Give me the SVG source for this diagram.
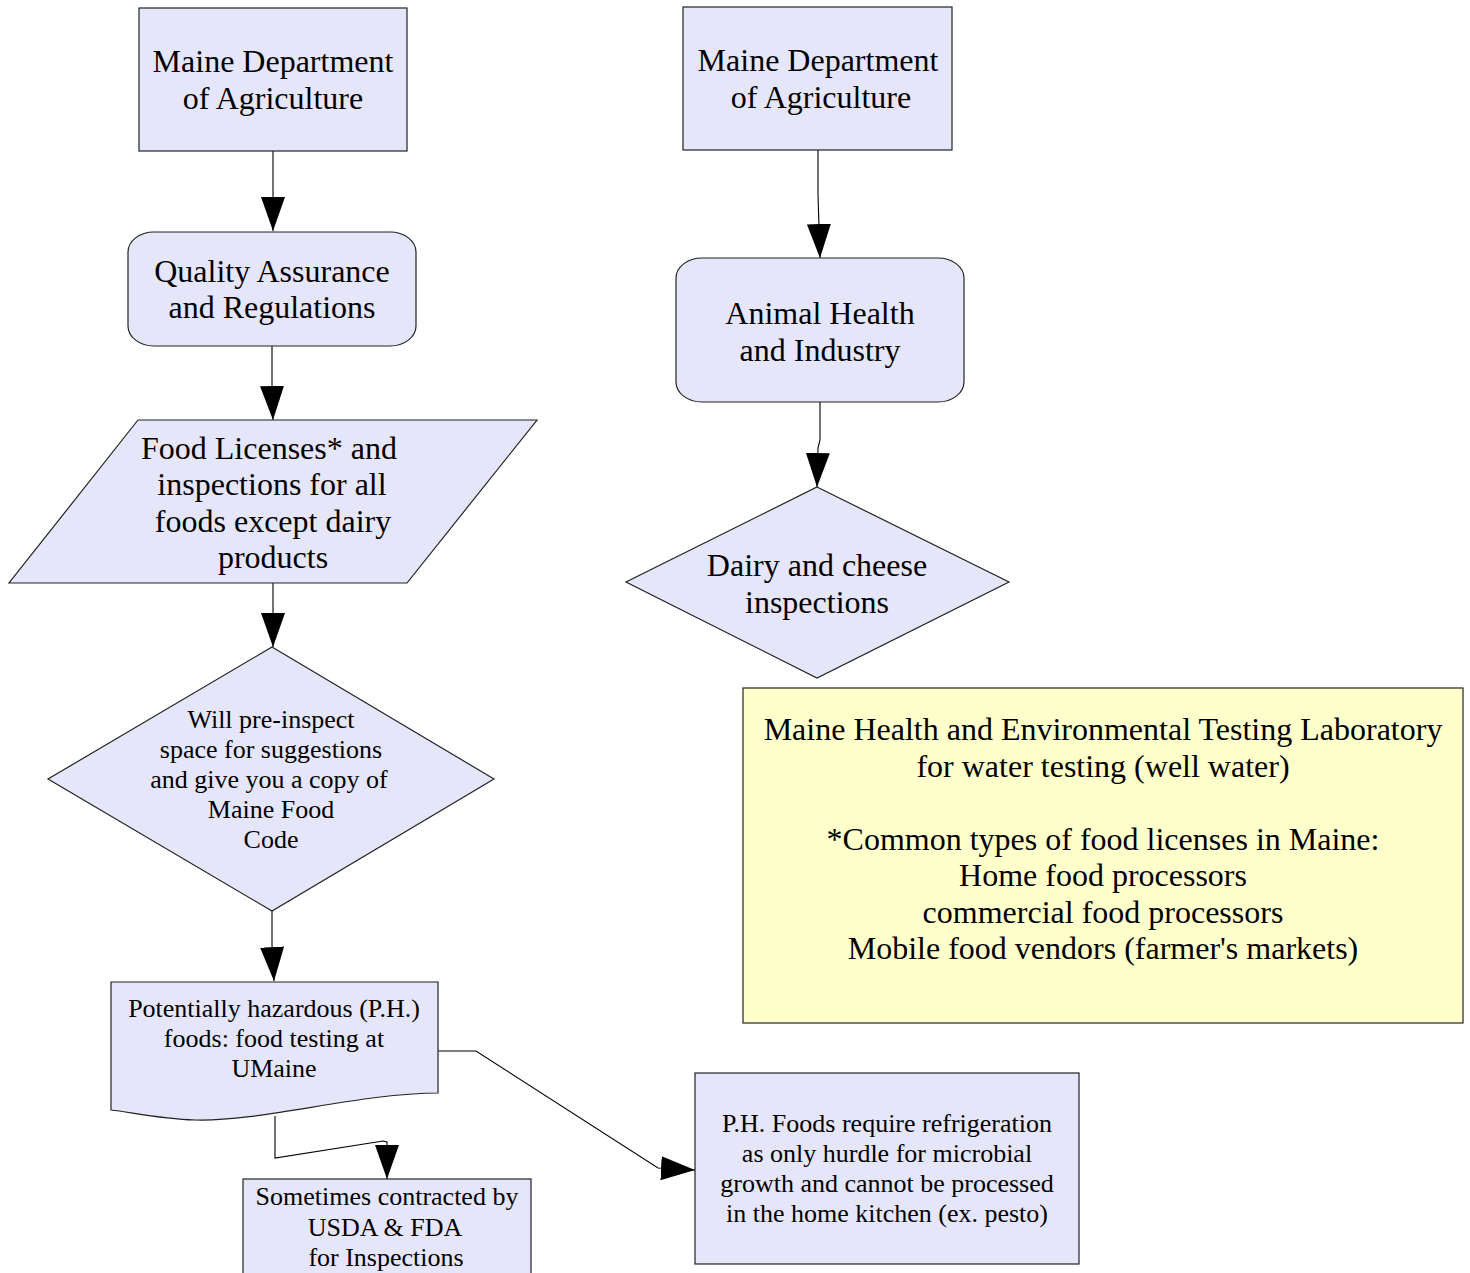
<svg xmlns="http://www.w3.org/2000/svg" width="1470" height="1273" viewBox="0 0 1470 1273">
<style>
.n{fill:#e6e6fa;stroke:#222;stroke-width:1.2}
.note{fill:#ffffcc;stroke:#222;stroke-width:1.2}
text{font-family:"Liberation Serif","Times New Roman",serif;fill:#000;text-anchor:middle}
.l{font-size:32px}
.s{font-size:26px}
.c{fill:none;stroke:#000;stroke-width:1.1}
</style>
<defs>
<marker id="ah" markerUnits="userSpaceOnUse" markerWidth="36" markerHeight="26" refX="34" refY="12" orient="auto">
<path d="M0,0 L34,12 L0,24 Z" fill="#000"/>
</marker>
</defs>
<rect width="1470" height="1273" fill="#fff"/>
<g id="connectors">
<path class="c" d="M273,151 L273,185 L273,231" marker-end="url(#ah)"/>
<path class="c" d="M272,346 L272,385 L273,420" marker-end="url(#ah)"/>
<path class="c" d="M273,583 L273,647" marker-end="url(#ah)"/>
<path class="c" d="M272,911 L272,945 L274,981" marker-end="url(#ah)"/>
<path class="c" d="M275,1116 L275,1158 L383,1141 L387,1142 L387,1179" marker-end="url(#ah)"/>
<path class="c" d="M438,1051 L476,1051 L658,1168 L695,1170" marker-end="url(#ah)"/>
<path class="c" d="M818,150 L818,195 L820,258" marker-end="url(#ah)"/>
<path class="c" d="M820,402 L820,440 L818,448 L817,487" marker-end="url(#ah)"/>
</g>
<g id="n1">
<rect class="n" x="139" y="8" width="268" height="143"/>
<text class="l" x="273" y="72">Maine Department</text>
<text class="l" x="273" y="109">of Agriculture</text>
</g>
<g id="n2">
<rect class="n" x="128" y="232" width="288" height="114" rx="26" ry="20"/>
<text class="l" x="272" y="282">Quality Assurance</text>
<text class="l" x="272" y="318">and Regulations</text>
</g>
<g id="n3">
<polygon class="n" points="138,420 537,420 407,583 9,583"/>
<text class="l" x="269" y="459">Food Licenses* and</text>
<text class="l" x="272" y="495">inspections for all</text>
<text class="l" x="273" y="532">foods except dairy</text>
<text class="l" x="273" y="568">products</text>
</g>
<g id="n4">
<polygon class="n" points="272,647 494,779 272,911 48,779"/>
<text class="s" x="271" y="728">Will pre-inspect</text>
<text class="s" x="271" y="758">space for suggestions</text>
<text class="s" x="269" y="788">and give you a copy of</text>
<text class="s" x="271" y="818">Maine Food</text>
<text class="s" x="271" y="848">Code</text>
</g>
<g id="n5">
<path class="n" d="M111,982 L438,982 L438,1093 C360,1093 260,1122 195,1120 C160,1119 130,1112 111,1110 Z"/>
<text class="s" x="274" y="1017">Potentially hazardous (P.H.)</text>
<text class="s" x="274" y="1047">foods: food testing at</text>
<text class="s" x="274" y="1077">UMaine</text>
</g>
<g id="n6">
<rect class="n" x="243" y="1179" width="288" height="110"/>
<text class="s" x="387" y="1205">Sometimes contracted by</text>
<text class="s" x="385" y="1236">USDA &amp; FDA</text>
<text class="s" x="386" y="1266">for Inspections</text>
</g>
<g id="n7">
<rect class="n" x="695" y="1073" width="384" height="191"/>
<text class="s" x="887" y="1132">P.H. Foods require refrigeration</text>
<text class="s" x="887" y="1162">as only hurdle for microbial</text>
<text class="s" x="887" y="1192">growth and cannot be processed</text>
<text class="s" x="887" y="1222">in the home kitchen (ex. pesto)</text>
</g>
<g id="n8">
<rect class="n" x="683" y="7" width="269" height="143"/>
<text class="l" x="818" y="71">Maine Department</text>
<text class="l" x="821" y="108">of Agriculture</text>
</g>
<g id="n9">
<rect class="n" x="676" y="258" width="288" height="144" rx="26" ry="20"/>
<text class="l" x="820" y="324">Animal Health</text>
<text class="l" x="820" y="361">and Industry</text>
</g>
<g id="n10">
<polygon class="n" points="817,487 1009,582 817,678 626,582"/>
<text class="l" x="817" y="576">Dairy and cheese</text>
<text class="l" x="817" y="613">inspections</text>
</g>
<g id="n11">
<rect class="note" x="743" y="688" width="720" height="335"/>
<text class="l" x="1103" y="740">Maine Health and Environmental Testing Laboratory</text>
<text class="l" x="1103" y="777">for water testing (well water)</text>
<text class="l" x="1103" y="850">*Common types of food licenses in Maine:</text>
<text class="l" x="1103" y="886">Home food processors</text>
<text class="l" x="1103" y="923">commercial food processors</text>
<text class="l" x="1103" y="959">Mobile food vendors (farmer's markets)</text>
</g>
</svg>
